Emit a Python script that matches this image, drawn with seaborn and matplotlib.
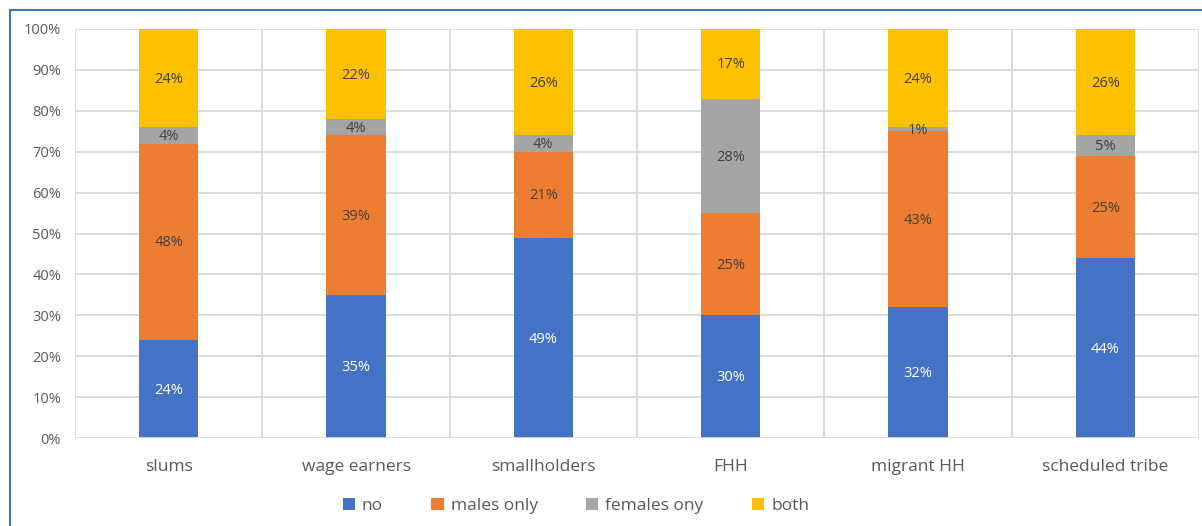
import matplotlib
matplotlib.use("Agg")
import matplotlib.pyplot as plt
import seaborn as sns
import pandas as pd
import numpy as np
from matplotlib.patches import Rectangle, Patch

categories = ["slums", "wage earners", "smallholders", "FHH", "migrant HH", "scheduled tribe"]
series_names = ["no", "males only", "females ony", "both"]
no_vals = [24, 35, 49, 30, 32, 44]
males_vals = [48, 39, 21, 25, 43, 25]
females_vals = [4, 4, 4, 28, 1, 5]
both_vals = [24, 22, 26, 17, 24, 26]
y_ticks = [0, 10, 20, 30, 40, 50, 60, 70, 80, 90, 100]

colors = ["#4472C4", "#ED7D31", "#A5A5A5", "#FFC000"]
label_colors = ["white", "#404040", "#404040", "#404040"]

sns.set_theme(style="white")
plt.rcParams['font.family'] = ['Open Sans', 'DejaVu Sans']

fig = plt.figure(figsize=(12.02, 5.26), dpi=100)
ax = fig.add_axes([75/1202, 1-438/526, (1199-75)/1202, (438-29)/526])

series = [no_vals, males_vals, females_vals, both_vals]
bottom = np.zeros(len(categories))
for name, vals, c, lc in zip(series_names, series, colors, label_colors):
    df = pd.DataFrame({"cat": categories, "val": vals})
    n_before = len(ax.patches)
    sns.barplot(data=df, x="cat", y="val", color=c, width=0.315, bottom=bottom,
                ax=ax, errorbar=None, saturation=1, zorder=3, linewidth=0)
    for p, v, b in zip(ax.patches[n_before:], vals, bottom):
        ax.text(p.get_x() + p.get_width()/2, b + v/2 - 0.3, f"{v}%", ha="center", va="center",
                color=lc, fontsize=10.5, zorder=6)
    bottom = bottom + np.array(vals)

ax.set_xlim(-0.5, len(categories) - 0.5)
ax.set_ylim(0, 100)
ax.set_yticks(y_ticks)
ax.set_yticklabels([f"{t}%" for t in y_ticks])
ax.set_xlabel("")
ax.set_ylabel("")
for t in y_ticks[1:]:
    ax.axhline(t, color="#D9D9D9", lw=1.3, zorder=1)
for k in range(len(categories) + 1):
    ax.axvline(-0.5 + k, color="#D9D9D9", lw=1.3, zorder=1)
for s in ax.spines.values():
    s.set_visible(False)
ax.axhline(0, color="#D9D9D9", lw=1.3, zorder=4)
ax.tick_params(axis="x", length=0, pad=15, labelsize=12.5, colors="#595959")
ax.tick_params(axis="y", length=0, pad=10, labelsize=10.5, colors="#595959")

handles = [Patch(facecolor=c, edgecolor="none") for c in colors]
fig.legend(handles, series_names, loc="center", bbox_to_anchor=(576/1202, 1-506/526), ncol=4,
           frameon=False, fontsize=12.5, handlelength=0.7, handleheight=0.7,
           handletextpad=0.4, columnspacing=2.8, labelcolor="#595959")

fig.patches.append(Rectangle((9.5/1202, -0.1), 1.2, 1 - 9.5/526 + 0.1, transform=fig.transFigure,
                             fill=False, edgecolor="#4472C4", lw=1.5))

fig.savefig("out.png", dpi=100)
